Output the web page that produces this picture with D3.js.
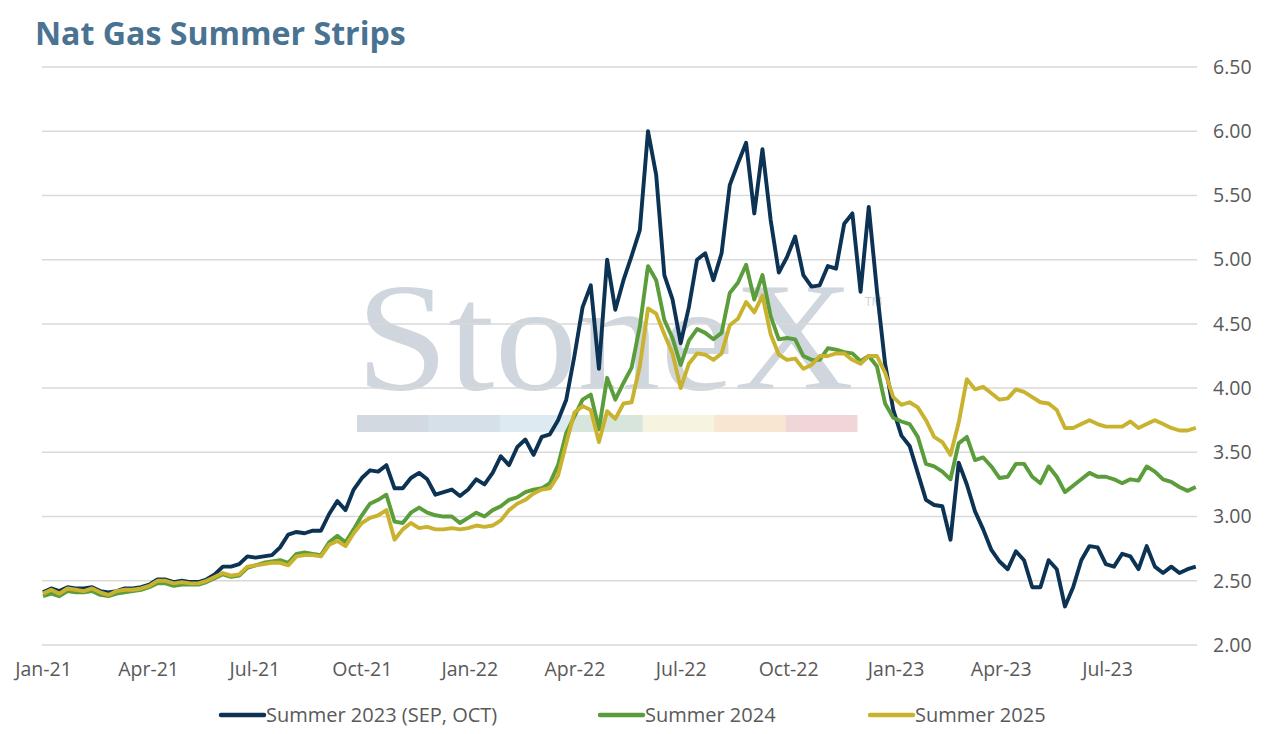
<!DOCTYPE html>
<html>
<head>
    <title>Nat Gas Summer Strips</title>
    <script src="https://d3js.org/d3.v7.min.js"></script>
    <style>
        body { margin: 0; background: #fff; }
        text { font-family: "Open Sans", sans-serif; }
    </style>
</head>
<body>
    <svg id="chart" width="1271" height="734"></svg>

    <script>
    // weekly closes (Fridays)
    var dates = [
        "2021-01-01","2021-01-08","2021-01-15","2021-01-22","2021-01-29","2021-02-05","2021-02-12","2021-02-19","2021-02-26","2021-03-05",
        "2021-03-12","2021-03-19","2021-03-26","2021-04-02","2021-04-09","2021-04-16","2021-04-23","2021-04-30","2021-05-07","2021-05-14",
        "2021-05-21","2021-05-28","2021-06-04","2021-06-11","2021-06-18","2021-06-25","2021-07-02","2021-07-09","2021-07-16","2021-07-23",
        "2021-07-30","2021-08-06","2021-08-13","2021-08-20","2021-08-27","2021-09-03","2021-09-10","2021-09-17","2021-09-24","2021-10-01",
        "2021-10-08","2021-10-15","2021-10-22","2021-10-29","2021-11-05","2021-11-12","2021-11-19","2021-11-26","2021-12-03","2021-12-10",
        "2021-12-17","2021-12-24","2021-12-31","2022-01-07","2022-01-14","2022-01-21","2022-01-28","2022-02-04","2022-02-11","2022-02-18",
        "2022-02-25","2022-03-04","2022-03-11","2022-03-18","2022-03-25","2022-04-01","2022-04-08","2022-04-15","2022-04-22","2022-04-29",
        "2022-05-06","2022-05-13","2022-05-20","2022-05-27","2022-06-03","2022-06-10","2022-06-17","2022-06-24","2022-07-01","2022-07-08",
        "2022-07-15","2022-07-22","2022-07-29","2022-08-05","2022-08-12","2022-08-19","2022-08-26","2022-09-02","2022-09-09","2022-09-16",
        "2022-09-23","2022-09-30","2022-10-07","2022-10-14","2022-10-21","2022-10-28","2022-11-04","2022-11-11","2022-11-18","2022-11-25",
        "2022-12-02","2022-12-09","2022-12-16","2022-12-23","2022-12-30","2023-01-06","2023-01-13","2023-01-20","2023-01-27","2023-02-03",
        "2023-02-10","2023-02-17","2023-02-24","2023-03-03","2023-03-10","2023-03-17","2023-03-24","2023-03-31","2023-04-07","2023-04-14",
        "2023-04-21","2023-04-28","2023-05-05","2023-05-12","2023-05-19","2023-05-26","2023-06-02","2023-06-09","2023-06-16","2023-06-23",
        "2023-06-30","2023-07-07","2023-07-14","2023-07-21","2023-07-28","2023-08-04","2023-08-11","2023-08-18","2023-08-25","2023-09-01",
        "2023-09-08","2023-09-15"
    ];

    var summer2023 = [
        2.41, 2.44, 2.42, 2.45, 2.44, 2.44, 2.45, 2.42, 2.41, 2.42,
        2.44, 2.44, 2.45, 2.47, 2.51, 2.51, 2.49, 2.50, 2.49, 2.49,
        2.51, 2.55, 2.61, 2.61, 2.63, 2.69, 2.68, 2.69, 2.70, 2.76,
        2.86, 2.88, 2.87, 2.89, 2.89, 3.02, 3.12, 3.05, 3.21, 3.30,
        3.36, 3.35, 3.40, 3.22, 3.22, 3.30, 3.34, 3.29, 3.17, 3.19,
        3.21, 3.16, 3.21, 3.29, 3.25, 3.34, 3.47, 3.40, 3.54, 3.60,
        3.48, 3.62, 3.64, 3.75, 3.91, 4.25, 4.63, 4.80, 4.15, 5.00,
        4.61, 4.84, 5.03, 5.23, 6.00, 5.66, 4.88, 4.69, 4.35, 4.63,
        5.00, 5.05, 4.84, 5.05, 5.58, 5.75, 5.91, 5.36, 5.86, 5.31,
        4.90, 5.02, 5.18, 4.88, 4.79, 4.80, 4.95, 4.93, 5.28, 5.36,
        4.75, 5.41, 4.76, 4.19, 3.83, 3.63, 3.55, 3.34, 3.13, 3.09,
        3.08, 2.82, 3.42, 3.25, 3.04, 2.90, 2.74, 2.65, 2.59, 2.73,
        2.66, 2.45, 2.45, 2.66, 2.59, 2.30, 2.45, 2.66, 2.77, 2.76,
        2.63, 2.61, 2.71, 2.69, 2.59, 2.77, 2.61, 2.56, 2.61, 2.56,
        2.59, 2.61
    ];

    var summer2024 = [
        2.38, 2.40, 2.38, 2.42, 2.41, 2.41, 2.42, 2.39, 2.38, 2.40,
        2.41, 2.42, 2.43, 2.45, 2.48, 2.48, 2.46, 2.47, 2.47, 2.47,
        2.49, 2.52, 2.55, 2.53, 2.54, 2.60, 2.62, 2.64, 2.65, 2.66,
        2.64, 2.71, 2.72, 2.71, 2.70, 2.80, 2.85, 2.80, 2.90, 3.01,
        3.10, 3.13, 3.17, 2.96, 2.95, 3.03, 3.07, 3.03, 3.01, 3.00,
        3.00, 2.95, 2.99, 3.03, 3.00, 3.05, 3.08, 3.13, 3.15, 3.19,
        3.21, 3.22, 3.26, 3.40, 3.65, 3.78, 3.91, 3.95, 3.68, 4.08,
        3.91, 4.04, 4.16, 4.48, 4.95, 4.84, 4.53, 4.39, 4.18, 4.37,
        4.46, 4.43, 4.38, 4.43, 4.74, 4.82, 4.96, 4.69, 4.88, 4.56,
        4.38, 4.39, 4.38, 4.25, 4.22, 4.22, 4.31, 4.30, 4.28, 4.27,
        4.21, 4.25, 4.17, 3.88, 3.77, 3.74, 3.72, 3.62, 3.41, 3.39,
        3.35, 3.29, 3.57, 3.62, 3.44, 3.46, 3.39, 3.30, 3.31, 3.41,
        3.41, 3.31, 3.26, 3.39, 3.31, 3.19, 3.24, 3.29, 3.34, 3.31,
        3.31, 3.29, 3.26, 3.29, 3.28, 3.39, 3.35, 3.29, 3.27, 3.23,
        3.20, 3.23
    ];

    var summer2025 = [
        2.40, 2.43, 2.40, 2.44, 2.43, 2.42, 2.44, 2.41, 2.39, 2.42,
        2.43, 2.43, 2.44, 2.46, 2.50, 2.50, 2.48, 2.49, 2.48, 2.48,
        2.50, 2.53, 2.56, 2.54, 2.55, 2.61, 2.62, 2.63, 2.64, 2.64,
        2.62, 2.69, 2.70, 2.70, 2.69, 2.78, 2.81, 2.77, 2.87, 2.95,
        2.99, 3.01, 3.05, 2.82, 2.90, 2.95, 2.91, 2.92, 2.90, 2.90,
        2.91, 2.90, 2.91, 2.93, 2.92, 2.93, 2.97, 3.05, 3.10, 3.13,
        3.18, 3.21, 3.22, 3.32, 3.57, 3.81, 3.86, 3.83, 3.58, 3.82,
        3.76, 3.88, 3.89, 4.17, 4.62, 4.58, 4.42, 4.27, 4.00, 4.19,
        4.27, 4.26, 4.22, 4.27, 4.49, 4.54, 4.67, 4.59, 4.72, 4.42,
        4.26, 4.22, 4.23, 4.15, 4.18, 4.25, 4.25, 4.27, 4.27, 4.22,
        4.19, 4.25, 4.25, 4.12, 3.93, 3.87, 3.89, 3.85, 3.75, 3.62,
        3.58, 3.48, 3.73, 4.07, 3.99, 4.01, 3.96, 3.91, 3.92, 3.99,
        3.97, 3.93, 3.89, 3.88, 3.83, 3.69, 3.69, 3.72, 3.75, 3.72,
        3.70, 3.70, 3.70, 3.74, 3.69, 3.72, 3.75, 3.72, 3.69, 3.67,
        3.67, 3.69
    ];

    var seriesNames = ["Summer 2023 (SEP, OCT)", "Summer 2024", "Summer 2025"];
    var yTicks = [2.0, 2.5, 3.0, 3.5, 4.0, 4.5, 5.0, 5.5, 6.0, 6.5];
    var xTicks = ["2021-01-01","2021-04-01","2021-07-01","2021-10-01","2022-01-01","2022-04-01",
                  "2022-07-01","2022-10-01","2023-01-01","2023-04-01","2023-07-01"];

    var colors = ["#0c3254", "#5b9c3b", "#c9b22d"];

    var parse = d3.timeParse("%Y-%m-%d");
    var svg = d3.select("#chart");

    var xScale = d3.scaleTime()
        .domain([parse("2021-01-01"), parse("2023-07-01")])
        .range([43, 1107]);

    var yScale = d3.scaleLinear()
        .domain([2, 6.5])
        .range([645, 67]);

    var plotLeft = 42, plotRight = 1197;

    // watermark behind the grid
    var wm = svg.append("g").attr("class", "watermark");
    wm.append("text")
        .attr("x", 356)
        .attr("y", 389)
        .attr("textLength", 498)
        .attr("lengthAdjust", "spacingAndGlyphs")
        .style("font-family", "'Liberation Serif', serif")
        .style("font-size", "155px")
        .attr("fill", "#d0d6de")
        .text("StoneX");
    wm.append("text")
        .attr("x", 865)
        .attr("y", 306)
        .style("font-size", "12px")
        .attr("fill", "#c9d0d9")
        .text("TM");
    var barColors = ["#d3d9e0", "#d6e0e9", "#deeaf2", "#d8e5dc", "#f6f4e0", "#f8e6d2", "#f0d6d8"];
    wm.selectAll("rect")
        .data(barColors)
        .enter()
        .append("rect")
        .attr("x", function(d, i) { return 357 + i * 500 / 7; })
        .attr("y", 415)
        .attr("width", 500 / 7 + 0.5)
        .attr("height", 17)
        .attr("fill", function(d) { return d; });

    // gridlines + y labels on the right
    svg.append("g")
        .selectAll("line")
        .data(yTicks)
        .enter()
        .append("line")
        .attr("x1", plotLeft)
        .attr("x2", plotRight)
        .attr("y1", function(d) { return yScale(d); })
        .attr("y2", function(d) { return yScale(d); })
        .attr("stroke", "#d9d9d9")
        .attr("stroke-width", 1.5);

    var yAxis = d3.axisRight(yScale)
        .tickValues(yTicks)
        .tickFormat(d3.format(".2f"))
        .tickSize(0)
        .tickPadding(0);

    svg.append("g")
        .attr("transform", "translate(1213,0)")
        .call(yAxis)
        .call(function(g) { g.select(".domain").remove(); })
        .selectAll("text")
        .attr("fill", "#595959")
        .style("font-size", "19.5px")
        .style("font-family", "'Open Sans', sans-serif");

    var xAxis = d3.axisBottom(xScale)
        .tickValues(xTicks.map(parse))
        .tickFormat(d3.timeFormat("%b-%y"))
        .tickSize(0)
        .tickPadding(0);

    svg.append("g")
        .attr("transform", "translate(0,662)")
        .call(xAxis)
        .call(function(g) { g.select(".domain").remove(); })
        .selectAll("text")
        .attr("fill", "#595959")
        .style("font-size", "19.5px")
        .style("font-family", "'Open Sans', sans-serif");

    // the three strips
    var series = [summer2023, summer2024, summer2025];
    var line = d3.line()
        .x(function(d) { return xScale(d.date); })
        .y(function(d) { return yScale(d.value); });

    series.forEach(function(vals, i) {
        var pts = dates.map(function(s, j) { return { date: parse(s), value: vals[j] }; });
        svg.append("path")
            .datum(pts)
            .attr("fill", "none")
            .attr("stroke", colors[i])
            .attr("stroke-width", 3.9)
            .attr("stroke-linejoin", "round")
            .attr("d", line);
    });

    // title
    var title = svg.append("text")
        .attr("x", 35)
        .attr("y", 45)
        .attr("fill", "#4a7291")
        .style("font-weight", "700")
        .style("font-size", "30px")
        .text("Nat Gas Summer Strips");
    var tw = title.node().getComputedTextLength();
    title.style("font-size", (30 * 371 / tw) + "px");

    // legend
    var legendX = [221, 600, 870];
    var legend = svg.append("g");
    seriesNames.forEach(function(name, i) {
        legend.append("line")
            .attr("x1", legendX[i])
            .attr("x2", legendX[i] + 43)
            .attr("y1", 715)
            .attr("y2", 715)
            .attr("stroke", colors[i])
            .attr("stroke-width", 4.5)
            .attr("stroke-linecap", "round");
        legend.append("text")
            .attr("x", legendX[i] + 45)
            .attr("y", 722)
            .attr("fill", "#595959")
            .style("font-size", "20px")
            .text(name);
    });
    </script>
</body>
</html>
